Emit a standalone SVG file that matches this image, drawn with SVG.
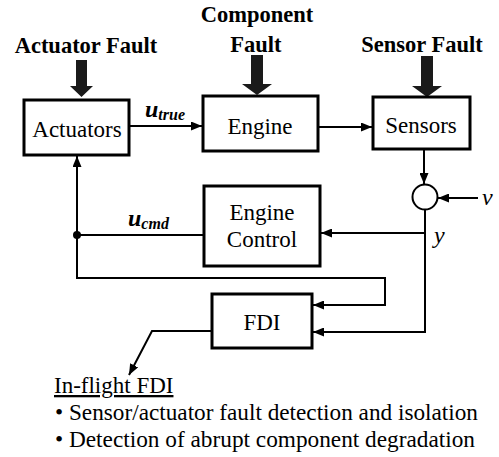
<svg xmlns="http://www.w3.org/2000/svg" width="499" height="457" viewBox="0 0 499 457">
<style>
text{font-family:'Liberation Serif','Liberation Sans',Arial,sans-serif;fill:#000}
.title{font-weight:bold;font-size:22.5px;text-anchor:middle}
.lbl{font-size:23px;text-anchor:middle}
.box{fill:#fff;stroke:#000;stroke-width:3}
.con{fill:none;stroke:#000;stroke-width:2}
.fa{fill:#1a1a1a}
.var{font-style:italic;font-weight:bold;font-size:24px}
.sub{font-style:italic;font-weight:bold;font-size:16px}
.it{font-style:italic;font-size:24px}
.note{font-size:23px}
</style>
<defs>
<marker id="ah" markerUnits="userSpaceOnUse" markerWidth="11" markerHeight="9" refX="11" refY="4.5" orient="auto">
<path d="M0,0 L11,4.5 L0,9 z" fill="#000"/>
</marker>
</defs>
<rect width="499" height="457" fill="#fff"/>
<g id="fault-labels">
<text class="title" x="86" y="53">Actuator Fault</text>
<text class="title" x="257" y="22">Component</text>
<text class="title" x="256" y="52">Fault</text>
<text class="title" x="422" y="52">Sensor Fault</text>
<path class="fa" d="M76,60 H87 V86 H93 L81.5,97 L70,86 H76 Z"/>
<path class="fa" d="M251,55 H263 V84 H272 L257,95 L242,84 H251 Z"/>
<path class="fa" d="M421,56 H433 V86 H442 L427,97 L412,86 H421 Z"/>
</g>
<g id="actuators">
<rect class="box" x="24" y="100" width="105" height="55"/>
<text class="lbl" x="77" y="137">Actuators</text>
</g>
<g id="engine">
<rect class="box" x="203" y="96" width="115" height="55"/>
<text class="lbl" x="260" y="134">Engine</text>
</g>
<g id="sensors">
<rect class="box" x="373" y="97" width="97" height="52"/>
<text class="lbl" x="421" y="133">Sensors</text>
</g>
<g id="sum">
<circle cx="425" cy="197" r="12.5" fill="#fff" stroke="#000" stroke-width="2"/>
</g>
<g id="engine-control">
<rect class="box" x="204" y="186" width="116" height="80"/>
<text class="lbl" x="262" y="220">Engine</text>
<text class="lbl" x="262" y="247">Control</text>
</g>
<g id="fdi">
<rect class="box" x="212" y="294" width="100" height="54"/>
<text class="lbl" x="262" y="330">FDI</text>
</g>
<g id="connectors">
<path class="con" d="M129,126 H202" marker-end="url(#ah)"/>
<path class="con" d="M318,127 H372" marker-end="url(#ah)"/>
<path class="con" d="M424,149 V184" marker-end="url(#ah)"/>
<path class="con" d="M478,198 H438" marker-end="url(#ah)"/>
<path class="con" d="M425,210 V332 H313" marker-end="url(#ah)"/>
<path class="con" d="M425,233 H321" marker-end="url(#ah)"/>
<path class="con" d="M204,235 H77 V156" marker-end="url(#ah)"/>
<path class="con" d="M77,235 V278 H385 V305 H313" marker-end="url(#ah)"/>
<path class="con" d="M212,331 H152 L129,375" marker-end="url(#ah)"/>
<circle cx="77" cy="235" r="4" fill="#000"/>
</g>
<g id="signal-labels">
<text x="145" y="117"><tspan class="var">u</tspan><tspan class="sub" dy="3">true</tspan></text>
<text x="128" y="226"><tspan class="var">u</tspan><tspan class="sub" dy="3">cmd</tspan></text>
<text class="it" x="434" y="243">y</text>
<text class="it" x="482" y="205">v</text>
</g>
<g id="notes">
<text class="note" x="54" y="393" text-decoration="underline">In-flight FDI</text>
<text class="note" x="55" y="420" textLength="423" lengthAdjust="spacingAndGlyphs">• Sensor/actuator fault detection and isolation</text>
<text class="note" x="55" y="447" textLength="420" lengthAdjust="spacingAndGlyphs">• Detection of abrupt component degradation</text>
</g>
</svg>
